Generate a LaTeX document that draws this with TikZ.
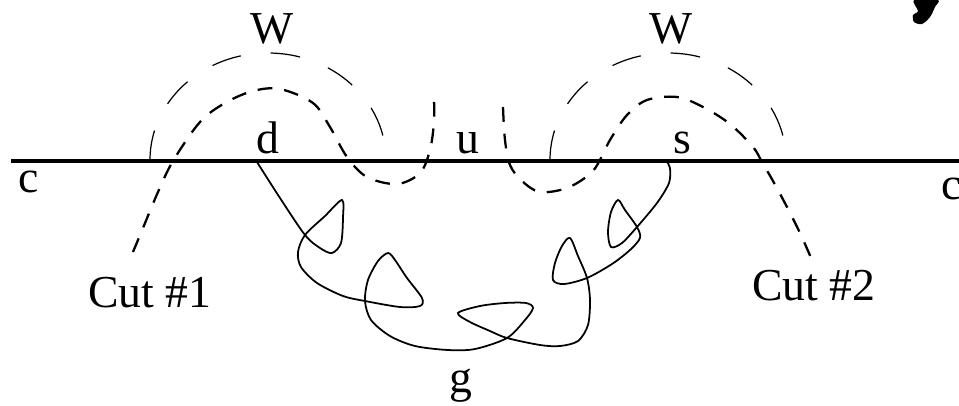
\documentclass[tikz,border=0pt]{standalone}
\usepackage{fontspec}
\setmainfont{Liberation Serif}
\begin{document}
\begin{tikzpicture}[x=0.01cm,y=-0.01cm,
  lbl/.style={font=\fontsize{13}{15}\selectfont, inner sep=0pt, anchor=base},
  axisline/.style={line width=0.95pt},
  wboson/.style={line width=0.35pt, dash pattern=on 8.5pt off 8.5pt},
  cutline/.style={line width=0.65pt, dash pattern=on 4.2pt off 3.4pt},
  gluon/.style={line width=0.5pt}]
\useasboundingbox (0,0) rectangle (959,405);
% labels
\node[lbl] (W1) at (272,43) {W};
\node[lbl] (W2) at (671,43) {W};
\node[lbl] (d) at (268,153) {d};
\node[lbl] (u) at (468,153) {u};
\node[lbl] (s) at (682,153) {s};
\node[lbl] (cL) at (29,192) {c};
\node[lbl] (cR) at (952,199) {c};
\node[lbl] (cut1) at (150,307) {Cut \#1};
\node[lbl] (cut2) at (814,300) {Cut \#2};
\node[lbl] (g) at (461,392) {g};
% quark line
\coordinate (L0) at (11,161);
\coordinate (L1) at (959,161);
\draw[axisline] (L0) -- (L1);
% W bosons
\coordinate (wl) at (150,160);
\coordinate (wr) at (550,160);
\draw[wboson] (wl) arc[start angle=180, end angle=354, x radius=118, y radius=107];
\draw[wboson] (wr) arc[start angle=180, end angle=354, x radius=118, y radius=107];
% cuts
\coordinate (c1) at (133,252);
\coordinate (c1e) at (434,100);
\coordinate (c2s) at (503,107);
\coordinate (c2) at (812,260);
\draw[cutline] plot[smooth, tension=0.55] coordinates {(c1) (143,228) (158,192) (173,161) (200,122) (225,103) (253,91) (280,89) (313,103) (330,127) (347,157) (367,177) (397,184) (420,173) (430,150) (434,122) (c1e)};
\draw[cutline] plot[smooth, tension=0.55] coordinates {(c2s) (505,140) (510,165) (522,181) (540,192) (567,188) (590,174) (600,160) (610,140) (627,115) (647,100) (677,97) (703,107) (730,124) (753,147) (762,162) (773,181) (787,207) (800,233) (c2)};
% gluon
\coordinate (qd) at (257,162);
\coordinate (qs) at (667,162);
\draw[gluon] plot[smooth, tension=0.5] coordinates {(qd) (280,198) (305,235) (320,248) (332,253) (341,243) (343,218) (342,200) (325,216) (305,235) (298,252) (301,267) (317,283) (343,296) (365,301) (400,307) (420,306) (422,298) (407,278) (395,260) (388,253) (378,261) (368,280) (365,301) (371,320) (390,336) (415,346) (448,350) (475,349) (507,338) (525,320) (533,308) (526,303) (505,303) (480,306) (458,313) (470,322) (490,331) (507,338) (540,345) (560,346) (578,341) (588,325) (590,300) (587,278) (578,256) (570,238) (562,246) (555,263) (553,280) (564,284) (587,278) (612,264) (630,250) (640,238) (637,227) (625,210) (618,200) (611,212) (608,232) (611,247) (622,243) (637,227) (657,203) (669,183) (670,168) (qs)};
% corner blob
\fill plot[smooth cycle, tension=0.5] coordinates {(914,0) (918,11) (913,15) (914,22) (922,24) (930,17) (935,7) (938,0)};
\end{tikzpicture}
\end{document}
